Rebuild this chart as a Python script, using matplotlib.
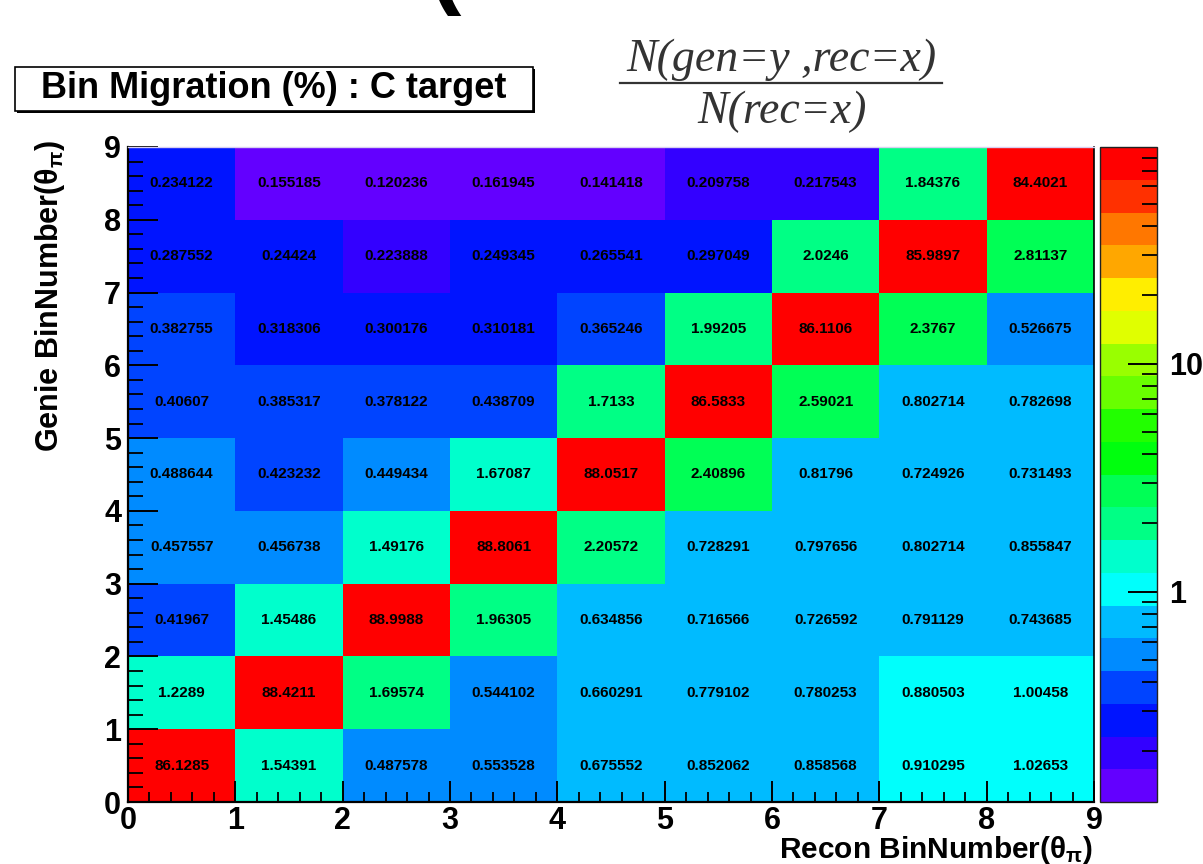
import colorsys
import numpy as np
import matplotlib
matplotlib.use("Agg")
import matplotlib.pyplot as plt
from matplotlib.colors import ListedColormap, LogNorm
from matplotlib.ticker import FixedLocator, NullFormatter
from matplotlib.patches import Rectangle
from matplotlib.lines import Line2D

# ---------------- data ----------------
recon_bins = [0, 1, 2, 3, 4, 5, 6, 7, 8, 9]   # bin edges (x)
genie_bins = [0, 1, 2, 3, 4, 5, 6, 7, 8, 9]   # bin edges (y)

# rows: gen bin 0 (bottom) ... 8 (top); columns: rec bin 0 ... 8
row_gen0 = [86.1285, 1.54391, 0.487578, 0.553528, 0.675552, 0.852062, 0.858568, 0.910295, 1.02653]
row_gen1 = [1.2289, 88.4211, 1.69574, 0.544102, 0.660291, 0.779102, 0.780253, 0.880503, 1.00458]
row_gen2 = [0.41967, 1.45486, 88.9988, 1.96305, 0.634856, 0.716566, 0.726592, 0.791129, 0.743685]
row_gen3 = [0.457557, 0.456738, 1.49176, 88.8061, 2.20572, 0.728291, 0.797656, 0.802714, 0.855847]
row_gen4 = [0.488644, 0.423232, 0.449434, 1.67087, 88.0517, 2.40896, 0.81796, 0.724926, 0.731493]
row_gen5 = [0.40607, 0.385317, 0.378122, 0.438709, 1.7133, 86.5833, 2.59021, 0.802714, 0.782698]
row_gen6 = [0.382755, 0.318306, 0.300176, 0.310181, 0.365246, 1.99205, 86.1106, 2.3767, 0.526675]
row_gen7 = [0.287552, 0.24424, 0.223888, 0.249345, 0.265541, 0.297049, 2.0246, 85.9897, 2.81137]
row_gen8 = [0.234122, 0.155185, 0.120236, 0.161945, 0.141418, 0.209758, 0.217543, 1.84376, 84.4021]

z_min = 0.1197
z_max = 88.9988
cbar_major = [1, 10]
cbar_minor = [0.2, 0.3, 0.4, 0.5, 0.6, 0.7, 0.8, 0.9, 2, 3, 4, 5, 6, 7, 8, 9, 20, 30, 40, 50, 60, 70, 80]

title_text = "Bin Migration (%) : C target"
xlabel_text = r"Recon BinNumber($\theta_{\pi}$)"
ylabel_text = r"Genie BinNumber($\theta_{\pi}$)"
formula_num = "N(gen=y ,rec=x)"
formula_den = "N(rec=x)"

values = np.array([row_gen0, row_gen1, row_gen2, row_gen3, row_gen4,
                   row_gen5, row_gen6, row_gen7, row_gen8])

# ---------------- style ----------------
plt.rcParams['font.family'] = ['Liberation Sans', 'DejaVu Sans']
plt.rcParams['font.weight'] = 'bold'
plt.rcParams['mathtext.default'] = 'regular'

# ROOT "pretty palette" (hue 280 -> 0), 20 contour levels
n_levels = 20
n_pal = 50
pal_colors = []
for j in range(n_levels):
    idx = int((j + 0.99) * n_pal / n_levels)
    hue = 280.0 - (idx + 1) * (280.0 / n_pal)
    pal_colors.append(colorsys.hls_to_rgb(hue / 360.0, 0.5, 1.0))
cmap = ListedColormap(pal_colors)
norm = LogNorm(vmin=z_min, vmax=z_max)

W, H = 1203, 864
PX = 0.72  # points per pixel at 100 dpi
fig = plt.figure(figsize=(W / 100, H / 100), dpi=100)
fig.patch.set_facecolor('white')

L, R, T, B = 128, 1094, 147, 802
ax = fig.add_axes([L / W, (H - B) / H, (R - L) / W, (B - T) / H])
cax = fig.add_axes([1100 / W, (H - B) / H, 57 / W, (B - T) / H])

mesh = ax.pcolormesh(recon_bins, genie_bins, values, cmap=cmap, norm=norm,
                     edgecolors='none')

for iy in range(values.shape[0]):
    for ix in range(values.shape[1]):
        xc = 0.5 * (recon_bins[ix] + recon_bins[ix + 1])
        yc = 0.5 * (genie_bins[iy] + genie_bins[iy + 1])
        ax.text(xc, yc, f"{values[iy, ix]:g}", ha='center', va='center',
                fontsize=11, fontweight='bold', color='black')

ax.set_xlim(recon_bins[0], recon_bins[-1])
ax.set_ylim(genie_bins[0], genie_bins[-1])
ax.xaxis.set_major_locator(FixedLocator(recon_bins))
ax.yaxis.set_major_locator(FixedLocator(genie_bins))
ax.xaxis.set_minor_locator(FixedLocator(np.arange(0, 9.01, 0.2)))
ax.yaxis.set_minor_locator(FixedLocator(np.arange(0, 9.01, 0.2)))
ax.tick_params(axis='x', which='major', direction='in', length=21 * PX, width=1.4,
               labelsize=22, pad=3, top=False)
ax.tick_params(axis='x', which='minor', direction='in', length=10 * PX, width=1.3, top=False)
ax.tick_params(axis='y', which='major', direction='in', length=30 * PX, width=1.4,
               labelsize=22, pad=5, right=False)
ax.tick_params(axis='y', which='minor', direction='in', length=15 * PX, width=1.3, right=False)
for lab in ax.get_xticklabels() + ax.get_yticklabels():
    lab.set_fontweight('bold')
ax.spines['left'].set_linewidth(1.6)
ax.spines['bottom'].set_linewidth(1.6)
ax.spines['right'].set_linewidth(1.2)
ax.spines['top'].set_color('#d8d0f0')
ax.spines['top'].set_linewidth(1)

# colour bar
cb = fig.colorbar(mesh, cax=cax)
cb.set_ticks(cbar_major, labels=[f"{v:g}" for v in cbar_major])
cb.set_ticks(cbar_minor, minor=True)
cax.yaxis.set_minor_formatter(NullFormatter())
cax.tick_params(axis='y', which='major', direction='in', length=29 * PX, width=1.4,
                labelsize=22, pad=9, right=True, left=False)
cax.tick_params(axis='y', which='minor', direction='in', length=15 * PX, width=1.3,
                right=True, left=False)
for lab in cax.get_yticklabels():
    lab.set_fontweight('bold')
cb.outline.set_linewidth(1)
cb.outline.set_edgecolor('#222222')

# axis titles
fig.text(50 / W, (H - 140) / H, ylabel_text, rotation=90, ha='center', va='top',
         fontsize=22, fontweight='bold')
fig.text(1093 / W, (H - 858) / H, xlabel_text, ha='right', va='baseline',
         fontsize=21.5, fontweight='bold')

# title pave with shadow
bx0, bx1, by0, by1 = 15, 533, 67, 111
fig.patches.append(Rectangle(((bx0 + 2) / W, (H - by1 - 2) / H), (bx1 - bx0) / W,
                             (by1 - by0) / H, transform=fig.transFigure,
                             facecolor='black', edgecolor='none', zorder=1))
fig.patches.append(Rectangle((bx0 / W, (H - by1) / H), (bx1 - bx0) / W,
                             (by1 - by0) / H, transform=fig.transFigure,
                             facecolor='white', edgecolor='black', linewidth=1.2,
                             zorder=2))
fig.text((bx0 + bx1) / 2 / W, (H - (by0 + by1) / 2) / H, title_text,
         ha='center', va='center', fontsize=26, fontweight='bold', zorder=3)

# formula (fraction drawn as two lines of text and a bar)
formula_color = '#333333'
fig.text(781 / W, (H - 71) / H, formula_num, ha='center', va='baseline',
         fontsize=33, fontweight='normal', fontstyle='italic',
         family=['Liberation Serif', 'DejaVu Serif'], color=formula_color)
fig.text(782 / W, (H - 123) / H, formula_den, ha='center', va='baseline',
         fontsize=33, fontweight='normal', fontstyle='italic',
         family=['Liberation Serif', 'DejaVu Serif'], color=formula_color)
fig.lines.append(Line2D([620 / W, 942 / W], [(H - 83) / H, (H - 83) / H],
                        transform=fig.transFigure, color=formula_color, linewidth=1.6))

# fragment of a large bracket cut at the top edge
fig.text(444 / W, (H - 16) / H, "(", ha='center', va='bottom', fontsize=70,
         fontweight='bold', color='black')

fig.savefig("out.png", dpi=100)
